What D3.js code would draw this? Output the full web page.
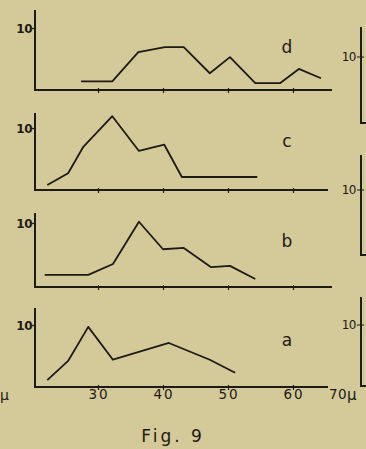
<!DOCTYPE html>
<html>
<head>
<meta charset="utf-8">
<script src="https://cdn.jsdelivr.net/npm/d3@7"></script>
<style>
  body { margin: 0; background: #d4c998; }
  svg { display: block; }
  text { font-family: "DejaVu Sans", sans-serif; fill: #1e1a14; }
</style>
</head>
<body>
<div id="chart"></div>
<script>
// size classes (micron) on the shared x axis
const xTicks = [30, 40, 50, 60];
const xTickLabels = ["30", "40", "50", "60"];

// curves (x in micron, y in counts)
const seriesD = [[27.4, 1.4], [32.2, 1.4], [36.2, 6.1], [40.3, 6.9], [43.2, 6.9], [47.2, 2.7], [50.3, 5.3], [54.2, 1.1], [58.0, 1.1], [60.9, 3.4], [64.3, 1.9]];
const seriesC = [[22.2, 0.8], [25.4, 2.7], [27.7, 6.9], [32.2, 11.9], [36.3, 6.3], [40.2, 7.3], [42.9, 2.1], [54.5, 2.1]];
const seriesB = [[21.8, 1.9], [28.5, 1.9], [32.3, 3.6], [36.3, 10.2], [40.0, 5.9], [43.2, 6.1], [47.4, 3.1], [50.3, 3.3], [54.2, 1.25]];
const seriesA = [[22.2, 1.1], [25.4, 4.2], [28.5, 9.7], [32.3, 4.4], [40.9, 7.1], [47.2, 4.4], [51.1, 2.3]];

const panelNames = ["d", "c", "b", "a"];
const panelSeries = [seriesD, seriesC, seriesB, seriesA];

const width = 366, height = 449;
const ink = "#1e1a14";

const svg = d3.select("#chart").append("svg")
  .attr("width", width)
  .attr("height", height);

svg.append("rect").attr("width", width).attr("height", height).attr("fill", "#d4c998");

const x = d3.scaleLinear().domain([20, 70]).range([33, 358]);

// layout of each panel: baseline, level of "10", top of axis, end of x axis
const layout = [
  { base: 90, ten: 28, top: 10, right: 332, labelY: 47 },
  { base: 190, ten: 128, top: 113, right: 328, labelY: 141 },
  { base: 287, ten: 223, top: 213, right: 332, labelY: 241 },
  { base: 387, ten: 325, top: 308, right: 328, labelY: 340 }
];

const line = d3.line().x(d => x(d[0]));

panelSeries.forEach((data, i) => {
  const L = layout[i];
  const y = d3.scaleLinear().domain([0, 10]).range([L.base, L.ten]);
  const g = svg.append("g");

  // x axis: baseline with small ticks
  const xAxis = d3.axisBottom(x).tickValues(xTicks).tickSize(3).tickFormat("");
  const gx = g.append("g").attr("transform", `translate(0,${L.base})`).call(xAxis);
  gx.select(".domain").remove();
  gx.selectAll("line").attr("stroke", ink).attr("stroke-width", 1.2).attr("y1", -2);
  g.append("line")
    .attr("x1", x(20) + 2).attr("x2", L.right)
    .attr("y1", L.base).attr("y2", L.base)
    .attr("stroke", ink).attr("stroke-width", 2);

  // y axis with the single "10" tick
  const yAxis = d3.axisLeft(y).tickValues([10]).tickSize(3).tickFormat("");
  const gy = g.append("g").attr("transform", `translate(${x(20) + 2},0)`).call(yAxis);
  gy.select(".domain").remove();
  gy.selectAll("line").attr("stroke", ink).attr("stroke-width", 1.2);
  g.append("line")
    .attr("x1", x(20) + 2).attr("x2", x(20) + 2)
    .attr("y1", L.top).attr("y2", L.base + 1)
    .attr("stroke", ink).attr("stroke-width", 2);
  g.append("text")
    .attr("x", x(20) - 1).attr("y", y(10) + 4.5)
    .attr("text-anchor", "end")
    .attr("font-size", 12).attr("font-weight", "bold")
    .attr("letter-spacing", -0.5)
    .text("10");

  g.append("path")
    .datum(data)
    .attr("d", line.y(d => y(d[1])))
    .attr("fill", "none")
    .attr("stroke", ink)
    .attr("stroke-width", 1.8)
    .attr("stroke-linejoin", "round");

  g.append("text")
    .attr("x", 287).attr("y", L.labelY + 6)
    .attr("text-anchor", "middle")
    .attr("font-size", 17)
    .text(panelNames[i]);
});

// shared x tick labels under the bottom panel
svg.selectAll(".xlab")
  .data(xTickLabels)
  .enter().append("text")
  .attr("x", (d, i) => x(30 + i * 10) + 1)
  .attr("y", 399)
  .attr("text-anchor", "middle")
  .attr("font-size", 13.5)
  .attr("letter-spacing", 2)
  .text(d => d);
svg.append("text").attr("x", 329).attr("y", 399).attr("font-size", 13.5).attr("letter-spacing", 0.5).text("70");
svg.append("text").attr("x", 347).attr("y", 400).attr("font-size", 15).text("\u03BC");
svg.append("text").attr("x", 0).attr("y", 400).attr("font-size", 14).text("\u03BC");

svg.append("text")
  .attr("x", 173).attr("y", 442)
  .attr("text-anchor", "middle")
  .attr("font-size", 17)
  .attr("letter-spacing", 3)
  .text("Fig. 9");

// edges of the neighbouring figure on the right
const rightTops = [27, 155, 297];
const rightBases = [123, 255, 386];
const rightTens = [57, 190, 325];
rightTops.forEach((t, i) => {
  svg.append("path")
    .attr("d", d3.line()([[361, t], [361, rightBases[i]], [368, rightBases[i]]]))
    .attr("fill", "none").attr("stroke", ink).attr("stroke-width", 2);
  svg.append("line")
    .attr("x1", 357).attr("x2", 364).attr("y1", rightTens[i]).attr("y2", rightTens[i])
    .attr("stroke", ink).attr("stroke-width", 1);
  svg.append("text")
    .attr("x", 356).attr("y", rightTens[i] + 4)
    .attr("text-anchor", "end")
    .attr("font-size", 12)
    .attr("letter-spacing", -0.5)
    .text("10");
});
</script>
</body>
</html>
